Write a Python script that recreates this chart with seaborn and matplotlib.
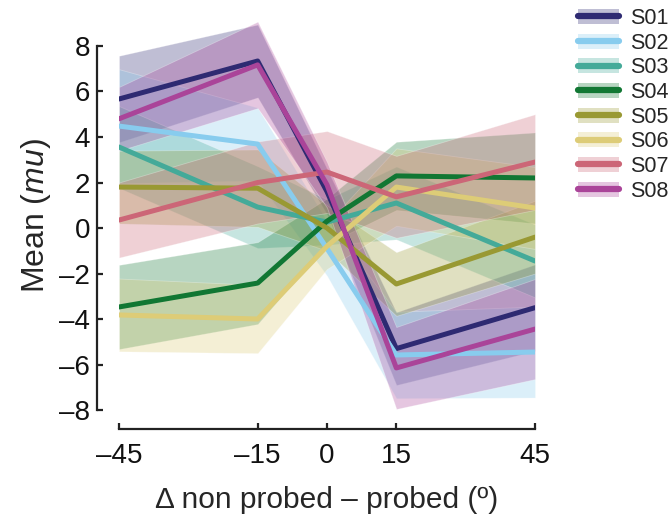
import numpy as np
import pandas as pd
import matplotlib
matplotlib.use("Agg")
import matplotlib.pyplot as plt
import seaborn as sns
from matplotlib.patches import Patch
from matplotlib.lines import Line2D

# ---- data ----
x_vals = [-45, -15, 0, 15, 45]
subjects = ["S01", "S02", "S03", "S04", "S05", "S06", "S07", "S08"]
colors = ["#2E2A72", "#88CCEE", "#44AA99", "#117733", "#999933", "#DDCC77", "#CC6677", "#AA4499"]

s01 = [5.67, 7.34, 1.6, -5.3, -3.5]
s02 = [4.48, 3.69, -0.9, -5.58, -5.45]
s03 = [3.56, 0.92, 0.26, 1.1, -1.45]
s04 = [-3.47, -2.42, 0.3, 2.29, 2.2]
s05 = [1.8, 1.75, 0.0, -2.46, -0.4]
s06 = [-3.82, -4.0, -0.8, 1.8, 0.88]
s07 = [0.35, 2.0, 2.46, 1.37, 2.9]
s08 = [4.8, 7.17, 1.9, -6.15, -4.44]

e01 = [1.9, 1.6, 1.0, 1.6, 1.9]
e02 = [2.5, 1.6, 1.2, 1.9, 2.0]
e03 = [1.8, 1.8, 1.0, 1.6, 1.6]
e04 = [1.85, 1.8, 1.0, 1.5, 2.0]
e05 = [1.6, 1.7, 1.0, 1.4, 1.6]
e06 = [1.6, 1.5, 1.0, 1.7, 1.8]
e07 = [1.65, 1.8, 1.8, 1.8, 2.1]
e08 = [1.4, 1.9, 1.0, 1.8, 2.2]

means = [s01, s02, s03, s04, s05, s06, s07, s08]
errs = [e01, e02, e03, e04, e05, e06, e07, e08]

y_ticks = [-8, -6, -4, -2, 0, 2, 4, 6, 8]
x_ticks = [-45, -15, 0, 15, 45]

rows = []
for s, m, e in zip(subjects, means, errs):
    for xv, mv, ev in zip(x_vals, m, e):
        rows.append({"delta": xv, "mean": mv, "lo": mv - ev, "hi": mv + ev, "subject": s})
df = pd.DataFrame(rows)

# ---- style ----
sns.set_theme(style="ticks")
plt.rcParams["font.family"] = ["Liberation Sans", "DejaVu Sans"]
plt.rcParams["mathtext.fontset"] = "custom"
plt.rcParams["mathtext.it"] = "Liberation Sans:italic"
plt.rcParams["mathtext.rm"] = "Liberation Sans"

fig = plt.figure(figsize=(6.72, 5.18), dpi=100)
ax = fig.add_axes([119 / 672, 1 - 414.6 / 518, (535 - 119) / 672, (414.6 - 16.4) / 518])

palette = dict(zip(subjects, colors))

# bands
for s in subjects:
    d = df[df.subject == s]
    ax.fill_between(d["delta"], d["lo"], d["hi"], color=palette[s], alpha=0.3,
                    edgecolor="white", linewidth=0.6, zorder=1)

sns.lineplot(data=df, x="delta", y="mean", hue="subject", palette=palette,
             linewidth=3.6, ax=ax, legend=False, zorder=3, estimator=None)

ax.set_xlim(-45, 45)
ax.set_ylim(-8.2, 9.3)
ax.set_xticks(x_ticks)
ax.set_xticklabels(["\u201345", "\u201315", "0", "15", "45"])
ax.set_yticks(y_ticks)
ax.set_yticklabels([("\u2013" + str(-v)) if v < 0 else str(v) for v in y_ticks])

for sp in ["top", "right"]:
    ax.spines[sp].set_visible(False)
ax.spines["left"].set_position(("outward", 22 * 0.72))
ax.spines["bottom"].set_position(("outward", 14.4 * 0.72))
ax.spines["left"].set_bounds(-8, 8)
ax.spines["bottom"].set_bounds(-45, 45)
for sp in ["left", "bottom"]:
    ax.spines[sp].set_linewidth(1.6)
    ax.spines[sp].set_color("#222222")
ax.tick_params(direction="in", length=4, width=1.6, labelsize=20, colors="#222222",
               labelcolor="#111111")
ax.tick_params(axis="x", pad=10)
ax.tick_params(axis="y", pad=5)

ax.set_xlabel("\u0394 non probed \u2013 probed (\u00ba)", fontsize=21.5, labelpad=12)
ax.set_ylabel(r"Mean ($\it{mu}$)", fontsize=23, labelpad=4)

handles = [(Patch(facecolor=c, alpha=0.3, edgecolor="none"), Line2D([], [], color=c, linewidth=4.5))
           for c in colors]
leg = fig.legend(handles, subjects, loc="upper left", bbox_to_anchor=(578 / 672, 1 - 8 / 518),
                 frameon=False, fontsize=15.5, handlelength=1.9, handleheight=0.7,
                 handletextpad=0.5, labelspacing=0.17, borderpad=0, borderaxespad=0)

fig.savefig("out.png", dpi=100)
